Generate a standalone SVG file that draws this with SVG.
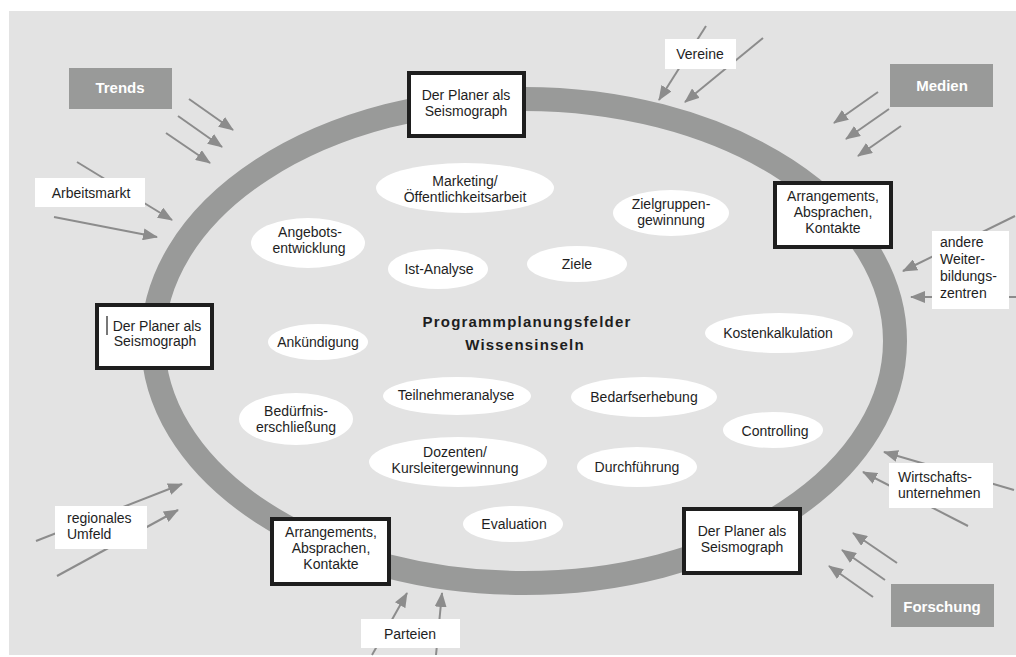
<svg xmlns="http://www.w3.org/2000/svg" width="1016" height="657" viewBox="0 0 1016 657">
<defs>
<style>
text{font-family:"Liberation Sans",Arial,sans-serif;font-size:14px;fill:#1e1e1e;}
.c{text-anchor:middle;}
.box{fill:#fff;stroke:#1e1e1e;stroke-width:4;}
.gbox{fill:#999a99;}
.gt{fill:#fff;font-weight:bold;font-size:15px;text-anchor:middle;}
.wbox{fill:#fff;}
.ell{fill:#fff;}
.arr{stroke:#8c8c8c;stroke-width:2;fill:none;marker-end:url(#ah);}
.title{font-weight:bold;font-size:15px;letter-spacing:1.2px;text-anchor:middle;}
</style>
<marker id="ah" markerUnits="userSpaceOnUse" markerWidth="15" markerHeight="12" refX="14" refY="6" orient="auto">
<path d="M0,0 L15,6 L0,12 z" fill="#8c8c8c"/>
</marker>
</defs>
<rect x="0" y="0" width="1016" height="657" fill="#fff"/>
<rect x="9" y="11" width="1007" height="644" fill="#e3e3e3"/>
<ellipse id="ring" cx="524" cy="341" rx="371" ry="242" fill="none" stroke="#999a99" stroke-width="24"/>

<g id="connectors">
<line class="arr" x1="189" y1="99" x2="233" y2="130"/>
<line class="arr" x1="178" y1="116" x2="222" y2="147"/>
<line class="arr" x1="166" y1="133" x2="210" y2="163"/>
<line class="arr" x1="77" y1="162" x2="172" y2="220"/>
<line class="arr" x1="54" y1="217" x2="157" y2="237"/>
<line class="arr" x1="706" y1="26" x2="659" y2="100"/>
<line class="arr" x1="763" y1="38" x2="685" y2="102"/>
<line class="arr" x1="878" y1="92" x2="834" y2="123"/>
<line class="arr" x1="889" y1="109" x2="846" y2="139"/>
<line class="arr" x1="901" y1="126" x2="858" y2="156"/>
<line class="arr" x1="1015" y1="216" x2="903" y2="271"/>
<line class="arr" x1="1016" y1="297" x2="911" y2="297"/>
<line class="arr" x1="1014" y1="490" x2="884" y2="452"/>
<line class="arr" x1="968" y1="526" x2="863" y2="472"/>
<line class="arr" x1="897" y1="563" x2="853" y2="533"/>
<line class="arr" x1="885" y1="580" x2="842" y2="550"/>
<line class="arr" x1="873" y1="597" x2="829" y2="566"/>
<line class="arr" x1="36" y1="541" x2="182" y2="484"/>
<line class="arr" x1="57" y1="576" x2="178" y2="510"/>
<line class="arr" x1="372" y1="655" x2="407" y2="593"/>
<line class="arr" x1="436" y1="655" x2="442" y2="593"/>
</g>

<g id="trends"><rect class="gbox" x="69" y="68" width="103" height="41"/><text class="gt" x="120" y="93">Trends</text></g>
<g id="medien"><rect class="gbox" x="890" y="64" width="103" height="43"/><text class="gt" x="942" y="91">Medien</text></g>
<g id="forschung"><rect class="gbox" x="891" y="584" width="103" height="43"/><text class="gt" x="942" y="612">Forschung</text></g>

<g id="arbeitsmarkt"><rect class="wbox" x="35" y="178" width="110" height="29"/><text class="c" x="91" y="198">Arbeitsmarkt</text></g>
<g id="vereine"><rect class="wbox" x="665" y="39" width="71" height="30"/><text class="c" x="700" y="59">Vereine</text></g>
<g id="weiterbildung"><rect class="wbox" x="932" y="231" width="77" height="78"/>
<text x="940" y="247">andere</text><text x="940" y="264">Weiter-</text><text x="940" y="281">bildungs-</text><text x="940" y="298">zentren</text></g>
<g id="wirtschaft"><rect class="wbox" x="889" y="463" width="104" height="45"/>
<text x="898" y="482">Wirtschafts-</text><text x="898" y="498">unternehmen</text></g>
<g id="regional"><rect class="wbox" x="55" y="506" width="92" height="43"/>
<text x="67" y="523">regionales</text><text x="67" y="539">Umfeld</text></g>
<g id="parteien"><rect class="wbox" x="361" y="619" width="99" height="29"/><text class="c" x="410" y="639">Parteien</text></g>

<g id="planer-top"><rect class="box" x="409" y="73" width="115" height="63"/>
<text class="c" x="466" y="100">Der Planer als</text><text class="c" x="466" y="116">Seismograph</text></g>
<g id="arr-topright"><rect class="box" x="775" y="183" width="116" height="64"/>
<text class="c" x="833" y="201">Arrangements,</text><text class="c" x="833" y="217">Absprachen,</text><text class="c" x="833" y="233">Kontakte</text></g>
<g id="planer-left"><rect class="box" x="97" y="305" width="115" height="63"/>
<line x1="107" y1="316" x2="107" y2="335" stroke="#1e1e1e" stroke-width="1.2"/>
<text class="c" x="157" y="331">Der Planer als</text><text class="c" x="155" y="346">Seismograph</text></g>
<g id="arr-bottomleft"><rect class="box" x="272" y="519" width="117" height="65"/>
<text class="c" x="331" y="537">Arrangements,</text><text class="c" x="331" y="553">Absprachen,</text><text class="c" x="331" y="569">Kontakte</text></g>
<g id="planer-bottomright"><rect class="box" x="684" y="509" width="116" height="64"/>
<text class="c" x="742" y="536">Der Planer als</text><text class="c" x="742" y="552">Seismograph</text></g>

<g id="marketing"><ellipse class="ell" cx="465" cy="188" rx="89" ry="25"/><text class="c" x="465" y="186">Marketing/</text><text class="c" x="465" y="202">Öffentlichkeitsarbeit</text></g>
<g id="zielgruppen"><ellipse class="ell" cx="671" cy="213" rx="58" ry="23"/><text class="c" x="671" y="209">Zielgruppen-</text><text class="c" x="671" y="225">gewinnung</text></g>
<g id="angebot"><ellipse class="ell" cx="308" cy="243" rx="57" ry="25"/><text class="c" x="310" y="237">Angebots-</text><text class="c" x="309" y="253">entwicklung</text></g>
<g id="istanalyse"><ellipse class="ell" cx="438" cy="269" rx="50" ry="20"/><text class="c" x="439" y="274">Ist-Analyse</text></g>
<g id="ziele"><ellipse class="ell" cx="577" cy="264" rx="50" ry="18"/><text class="c" x="577" y="269">Ziele</text></g>
<g id="ankuendigung"><ellipse class="ell" cx="318" cy="342" rx="50" ry="18"/><text class="c" x="318" y="347">Ankündigung</text></g>
<g id="kosten"><ellipse class="ell" cx="779" cy="333" rx="74" ry="20"/><text class="c" x="778" y="338">Kostenkalkulation</text></g>
<g id="teilnehmer"><ellipse class="ell" cx="457" cy="396" rx="74" ry="19"/><text class="c" x="456" y="400">Teilnehmeranalyse</text></g>
<g id="bedarf"><ellipse class="ell" cx="644" cy="397" rx="73" ry="20"/><text class="c" x="644" y="402">Bedarfserhebung</text></g>
<g id="beduerfnis"><ellipse class="ell" cx="296" cy="419" rx="57" ry="26"/><text class="c" x="296" y="416">Bedürfnis-</text><text class="c" x="296" y="432">erschließung</text></g>
<g id="controlling"><ellipse class="ell" cx="773" cy="430" rx="50" ry="18"/><text class="c" x="775" y="436">Controlling</text></g>
<g id="dozenten"><ellipse class="ell" cx="458" cy="462" rx="89" ry="25"/><text class="c" x="455" y="457">Dozenten/</text><text class="c" x="455" y="473">Kursleitergewinnung</text></g>
<g id="durchfuehrung"><ellipse class="ell" cx="637" cy="467" rx="60" ry="20"/><text class="c" x="637" y="472">Durchführung</text></g>
<g id="evaluation"><ellipse class="ell" cx="513" cy="524" rx="50" ry="18"/><text class="c" x="514" y="529">Evaluation</text></g>

<g id="title"><text class="title" x="527" y="327">Programmplanungsfelder</text><text class="title" x="525" y="350">Wissensinseln</text></g>
</svg>
